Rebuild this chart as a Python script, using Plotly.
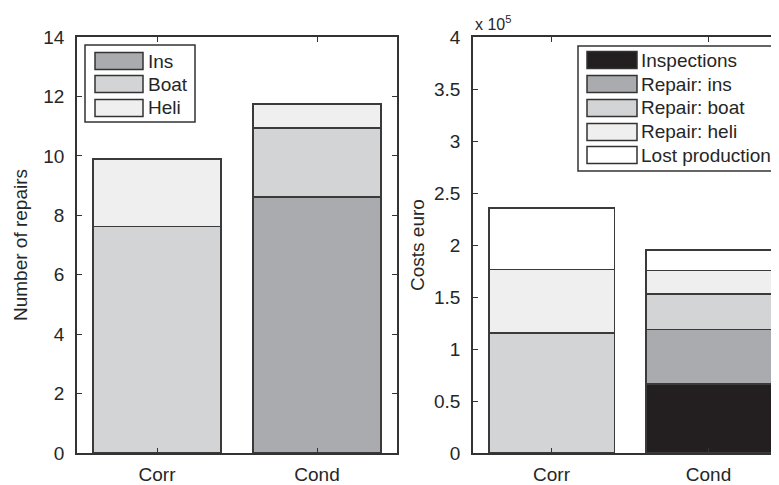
import plotly.graph_objects as go

# ---------------- data ----------------
categories = ["Corr", "Cond"]

repair_series = ["Ins", "Boat", "Heli"]
repairs_ins = [0.0, 8.62]
repairs_boat = [7.62, 2.31]
repairs_heli = [2.27, 0.82]

cost_series = ["Inspections", "Repair: ins", "Repair: boat", "Repair: heli", "Lost production"]
cost_inspections = [0, 66500]
cost_repair_ins = [0, 52100]
cost_repair_boat = [115500, 34300]
cost_repair_heli = [60800, 22400]
cost_lost_prod = [59200, 19900]

left_ticks = [0, 2, 4, 6, 8, 10, 12, 14]
right_tickvals = [0, 50000, 100000, 150000, 200000, 250000, 300000, 350000, 400000]
right_ticktext = ["0", "0.5", "1", "1.5", "2", "2.5", "3", "3.5", "4"]

# ---------------- style ----------------
OFF = 8                      # default page body margin
PW, PH = 779, 485            # page (window) size
W, H = PW - OFF, PH - OFF    # figure size
TOP, BOT = 37, 453           # plot area top/bottom in page pixels
FONT = "Liberation Sans, Arial, sans-serif"
FS = 19
TXT = "#262626"
EDGE = "#3a3a3a"
repair_colors = ["#aaabae", "#d3d4d6", "#efefef"]
cost_colors = ["#231f20", "#aaabae", "#d3d4d6", "#efefef", "#ffffff"]


def px_x(x):
    return (x - OFF) / W


def px_y(y):
    return (BOT - y) / (BOT - TOP)


fig = go.Figure()

for name, vals, col in zip(repair_series, [repairs_ins, repairs_boat, repairs_heli], repair_colors):
    fig.add_trace(go.Bar(x=categories, y=vals, name=name, xaxis="x", yaxis="y",
                         marker=dict(color=col, line=dict(color=EDGE, width=1.6)),
                         showlegend=False))

for name, vals, col in zip(cost_series,
                           [cost_inspections, cost_repair_ins, cost_repair_boat, cost_repair_heli, cost_lost_prod],
                           cost_colors):
    fig.add_trace(go.Bar(x=categories, y=vals, name=name, xaxis="x2", yaxis="y2",
                         marker=dict(color=col, line=dict(color=EDGE, width=1.6)),
                         showlegend=False))

axis_common = dict(showline=True, linecolor="#333333", linewidth=1.5, ticks="inside",
                   tickcolor="#333333", ticklen=5, tickwidth=1.2, showgrid=False, zeroline=False,
                   tickfont=dict(family=FONT, size=FS, color=TXT))

fig.update_layout(
    width=W, height=H,
    margin=dict(l=0, r=0, t=TOP - OFF, b=PH - BOT),
    paper_bgcolor="white", plot_bgcolor="white",
    barmode="stack", bargap=0.2,
    showlegend=False,
    xaxis=dict(domain=[px_x(77), px_x(397)], range=[-0.5, 1.5], mirror="ticks",
               anchor="y", ticklabelstandoff=3, **axis_common),
    yaxis=dict(domain=[0, 1], range=[0, 14], tickvals=left_ticks, mirror="ticks",
               anchor="x", ticklabelstandoff=7, **axis_common),
    xaxis2=dict(domain=[px_x(473), 1.0], range=[-0.5, -0.5 + (PW - 473) / 157.0], mirror="ticks",
                anchor="y2", ticklabelstandoff=3, **axis_common),
    yaxis2=dict(domain=[0, 1], range=[0, 400000], tickvals=right_tickvals, ticktext=right_ticktext,
                mirror=False, anchor="x2", ticklabelstandoff=7, **axis_common),
)

annotations = [
    dict(text="Number of repairs", x=px_x(20), y=0.5, xref="paper", yref="paper",
         xanchor="center", yanchor="middle",
         textangle=-90, showarrow=False, font=dict(family=FONT, size=FS, color=TXT)),
    dict(text="Costs euro", x=px_x(417), y=0.5, xref="paper", yref="paper",
         xanchor="center", yanchor="middle",
         textangle=-90, showarrow=False, font=dict(family=FONT, size=FS, color=TXT)),
    dict(text="x 10<sup>5</sup>", x=px_x(473), y=px_y(23), xref="paper", yref="paper",
         xanchor="left", yanchor="middle", showarrow=False,
         font=dict(family=FONT, size=16, color=TXT)),
]
shapes = []


def add_legend(box, sw_x0, sw_x1, centers, sw_h, text_x, names, colors):
    bx0, by0, bx1, by1 = box
    shapes.append(dict(type="rect", xref="paper", yref="paper",
                       x0=px_x(bx0), x1=px_x(bx1), y0=px_y(by1), y1=px_y(by0),
                       line=dict(color="#333333", width=1.5), fillcolor="white", layer="above"))
    for cy, nm, col in zip(centers, names, colors):
        shapes.append(dict(type="rect", xref="paper", yref="paper",
                           x0=px_x(sw_x0), x1=px_x(sw_x1),
                           y0=px_y(cy + sw_h / 2), y1=px_y(cy - sw_h / 2),
                           line=dict(color="#333333", width=1.5), fillcolor=col, layer="above"))
        annotations.append(dict(text=nm, x=px_x(text_x), y=px_y(cy), xref="paper", yref="paper",
                                xanchor="left", yanchor="middle", showarrow=False,
                                font=dict(family=FONT, size=FS, color=TXT)))


add_legend((85, 45, 195, 122), 95, 143, [61, 84, 108], 17, 146, repair_series, repair_colors)
add_legend((578, 46, 778, 171), 587, 637, [60, 84, 108, 132, 155], 17, 639, cost_series, cost_colors)

fig.update_layout(annotations=annotations, shapes=shapes)

fig.write_html("out.html")
